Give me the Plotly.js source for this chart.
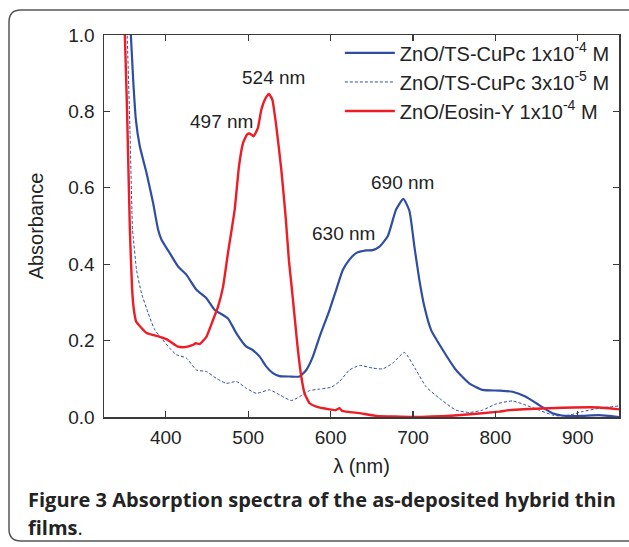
<!DOCTYPE html>
<html>
<head>
<meta charset="utf-8">
<script src="https://cdn.plot.ly/plotly-3.0.1.min.js"></script>
<style>html,body{margin:0;padding:0;background:#fff;}#chart{width:629px;height:547px;}</style>
</head>
<body>
<div id="chart"></div>
<script>
// Series 1: ZnO/TS-CuPc 1x10^-4 M (solid blue)
const cupc1X = [356,357.6,360.4,363.7,368.5,376.6,384.6,390.7,394.8,404.8,414.9,425.1,437.2,449.3,459.4,469.4,475.5,485.7,497.8,505,513.9,522,530,538.1,550.2,562.3,570.5,578.5,586.6,598.7,606.8,614.8,622.9,631,643.2,651.2,659.3,669.3,679.5,688.3,695.6,701.7,707.7,713.8,721.9,736,752.2,768.3,784.4,804.6,820.8,837,853.1,869.3,885.4,905,925.8,950];
const cupc1Y = [1.05,1.0,0.883,0.778,0.708,0.639,0.56,0.49,0.464,0.429,0.394,0.372,0.333,0.311,0.28,0.267,0.258,0.219,0.184,0.176,0.158,0.132,0.115,0.107,0.106,0.106,0.123,0.158,0.21,0.28,0.333,0.385,0.412,0.429,0.436,0.437,0.446,0.473,0.543,0.571,0.54,0.446,0.359,0.289,0.228,0.176,0.123,0.088,0.071,0.069,0.066,0.053,0.031,0.01,0.003,0.003,0.005,0.0];

// Series 2: ZnO/TS-CuPc 3x10^-5 M (dashed blue)
const cupc2X = [352,353.1,356.5,359.6,360.4,364.5,370.5,378.6,386.7,394.8,404.8,412.9,425.1,437.2,449.3,461.4,473.5,485.7,497.8,509.9,526,538.1,552.3,562.3,574.5,586.6,600.7,610.8,622.9,635,651.2,663.3,675.4,689.6,703.7,715.9,732,752.2,768.3,784.4,800.6,820.8,837,853.1,869.3,877.4,890,905.6,925.8,950];
const cupc2Y = [1.05,1.0,0.75,0.49,0.473,0.385,0.324,0.272,0.228,0.206,0.18,0.163,0.154,0.123,0.119,0.101,0.088,0.093,0.075,0.062,0.071,0.058,0.043,0.053,0.069,0.073,0.078,0.093,0.123,0.135,0.128,0.126,0.141,0.169,0.123,0.079,0.049,0.018,0.012,0.018,0.034,0.042,0.031,0.018,0.005,0.003,0.005,0.014,0.023,0.029];

// Series 3: ZnO/Eosin-Y 1x10^-4 M (solid red)
const eosinX = [349.5,350.3,353,356.4,359,361,364,370.5,376.6,392.7,400.8,414.9,423,433,436.3,441.2,449.3,457.3,463.4,469.4,475.5,483.6,488.8,493.7,498.5,501.8,506.6,511.8,516,521.2,525.2,529.3,534.1,540.2,545.4,549.4,552.3,556.3,560.3,564.4,568.4,574.5,582.6,598.7,606,610.8,614,618.9,635,655.3,700,750,804.6,816.8,865.2,925.8,950];
const eosinY = [1.05,1.0,0.8,0.49,0.34,0.285,0.25,0.233,0.22,0.21,0.204,0.184,0.183,0.189,0.193,0.191,0.21,0.254,0.289,0.34,0.43,0.543,0.656,0.717,0.739,0.742,0.735,0.757,0.805,0.835,0.846,0.831,0.761,0.647,0.525,0.41,0.35,0.263,0.176,0.106,0.062,0.036,0.027,0.02,0.018,0.023,0.016,0.014,0.01,0.003,0.0,0.004,0.014,0.018,0.023,0.025,0.02];

const seriesNames = ["ZnO/TS-CuPc 1x10<sup>-4</sup> M", "ZnO/TS-CuPc 3x10<sup>-5</sup> M", "ZnO/Eosin-Y 1x10<sup>-4</sup> M"];

const peakLabels = ["524 nm", "497 nm", "690 nm", "630 nm"];
const peakLabelX = [530.8, 467.8, 687.1, 615.6];
const peakLabelY = [0.889, 0.773, 0.613, 0.481];

const xTicks = [400, 500, 600, 700, 800, 900];
const yTicks = [0.0, 0.2, 0.4, 0.6, 0.8, 1.0];

const blue = "#2f4ea3";
const red = "#ee1c25";
const axisColor = "#3a3a3a";
const textColor = "#232323";
const sans = "Liberation Sans, Arial, sans-serif";

const traces = [
  {x: cupc1X, y: cupc1Y, name: seriesNames[0], type: "scatter", mode: "lines",
   line: {color: blue, width: 2.2, shape: "spline", smoothing: 0.5}},
  {x: cupc2X, y: cupc2Y, name: seriesNames[1], type: "scatter", mode: "lines",
   line: {color: blue, width: 1, dash: "3px,2px", shape: "spline", smoothing: 0.5}},
  {x: eosinX, y: eosinY, name: seriesNames[2], type: "scatter", mode: "lines",
   line: {color: red, width: 2.4, shape: "spline", smoothing: 0.4}}
];

const annotations = peakLabels.map((t, i) => ({
  x: peakLabelX[i], y: peakLabelY[i], xref: "x", yref: "y", text: t, showarrow: false,
  font: {family: sans, size: 19, color: textColor}
}));

// Caption
annotations.push({
  xref: "paper", yref: "paper", x: -0.152, y: -0.217, xanchor: "left", yanchor: "middle",
  text: "<b>Figure 3 Absorption spectra of the as-deposited hybrid thin</b>", showarrow: false,
  font: {family: "Open Sans, sans-serif", size: 20, color: textColor}
});
annotations.push({
  xref: "paper", yref: "paper", x: -0.152, y: -0.288, xanchor: "left", yanchor: "middle",
  text: "<b>films</b>.", showarrow: false,
  font: {family: "Open Sans, sans-serif", size: 20, color: textColor}
});

// Rounded frame around the figure (plot area: left=104px, width=515px, top=35px, height=382px)
const px = v => (v - 104) / 515;
const py = v => (417 - v) / 382;
const L = px(9), R = px(645), T = py(10), B = py(541);
const rx = 12 / 515, ry = 12 / 382;
const framePath = `M ${R} ${T} L ${L + rx} ${T} Q ${L} ${T} ${L} ${T - ry} L ${L} ${B + ry} Q ${L} ${B} ${L + rx} ${B} L ${R} ${B}`;

const layout = {
  width: 629, height: 547,
  margin: {l: 104, r: 10, t: 35, b: 130},
  paper_bgcolor: "#fff", plot_bgcolor: "#fff",
  showlegend: true,
  legend: {x: 0.458, y: 1.004, xanchor: "left", yanchor: "top", bgcolor: "rgba(0,0,0,0)",
    font: {family: sans, size: 20, color: textColor},
    tracegroupgap: 0, itemwidth: 50},
  xaxis: {
    range: [325, 950], tickvals: xTicks, ticktext: xTicks.map(String),
    ticks: "inside", ticklen: 6, tickwidth: 1.2, tickcolor: axisColor,
    showline: true, linecolor: axisColor, linewidth: 1.5, mirror: "ticks",
    showgrid: false, zeroline: false,
    tickfont: {family: sans, size: 19, color: textColor},
    ticklabelstandoff: 3,
    title: {text: "λ (nm)", standoff: 11, font: {family: sans, size: 20, color: textColor}}
  },
  yaxis: {
    range: [0, 1.0], tickvals: yTicks, ticktext: yTicks.map(v => v.toFixed(1)),
    ticks: "inside", ticklen: 6, tickwidth: 1.2, tickcolor: axisColor,
    showline: true, linecolor: axisColor, linewidth: 1.5, mirror: "ticks",
    showgrid: false, zeroline: false,
    tickfont: {family: sans, size: 19, color: textColor},
    ticklabelstandoff: 4,
    title: {text: "Absorbance", standoff: 19, font: {family: sans, size: 20, color: textColor}}
  },
  annotations: annotations,
  shapes: [{type: "path", xref: "paper", yref: "paper", path: framePath,
    line: {color: "#555", width: 1.5}, layer: "below"}]
};

Plotly.newPlot("chart", traces, layout, {displayModeBar: false, staticPlot: true});
</script>
</body>
</html>
